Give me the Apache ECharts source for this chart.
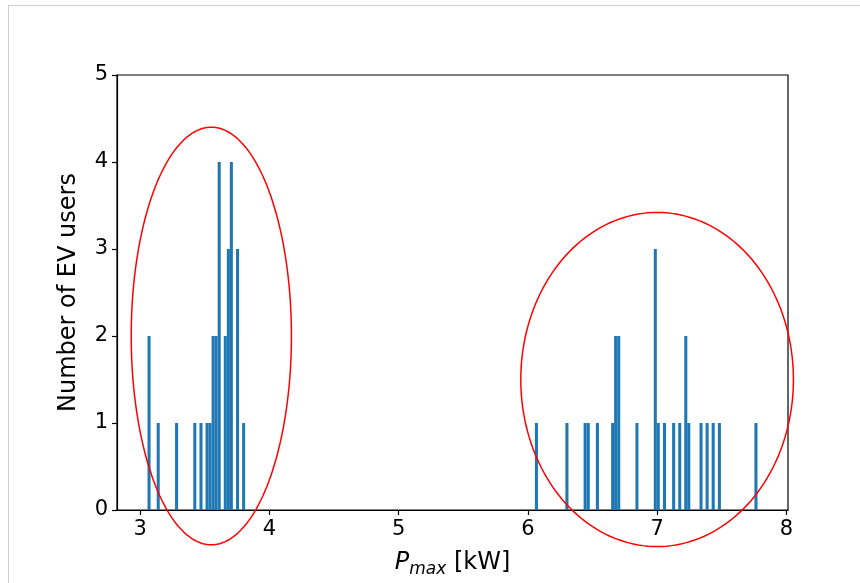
<!DOCTYPE html>
<html>
<head>
<meta charset="utf-8">
<script src="https://cdn.jsdelivr.net/npm/echarts@6/dist/echarts.min.js"></script>
<style>
  html, body { margin: 0; padding: 0; background: #fff; }
  #chart { width: 860px; height: 583px; }
</style>
</head>
<body>
<div id="chart"></div>
<script>
// Histogram bin centres (kW) and counts
const binWidth = 0.0236;
const binCenters = [
  3.068, 3.139, 3.281, 3.422, 3.470, 3.517, 3.540, 3.564, 3.587, 3.611,
  3.658, 3.682, 3.705, 3.753, 3.800,
  6.066, 6.302, 6.443, 6.467, 6.538, 6.656, 6.679, 6.703, 6.844,
  6.986, 7.009, 7.057, 7.128, 7.175, 7.222, 7.245, 7.340, 7.387, 7.434, 7.482, 7.765
];
const binCounts = [
  2, 1, 1, 1, 1, 1, 1, 2, 2, 4,
  2, 3, 4, 3, 1,
  1, 1, 1, 1, 1, 1, 2, 2, 1,
  3, 1, 1, 1, 1, 2, 1, 1, 1, 1, 1, 1
];
const xTicks = [3, 4, 5, 6, 7, 8];
const yTicks = [0, 1, 2, 3, 4, 5];
// Ellipses: centre x, centre y, full width, full height (data units)
const ellipseCx = [3.55, 7.0];
const ellipseCy = [2.0, 1.5];
const ellipseW = [1.24, 2.11];
const ellipseH = [4.8, 3.84];

const chart = echarts.init(document.getElementById('chart'), null, { renderer: 'canvas' });
const font = 'DejaVu Sans';

const barData = binCenters.map((c, i) => [c, binCounts[i]]);
const ellData = ellipseCx.map((c, i) => [c, ellipseCy[i], ellipseW[i], ellipseH[i]]);

const option = {
  backgroundColor: '#ffffff',
  animation: false,
  graphic: [
    { type: 'line', shape: { x1: 8, y1: 5.5, x2: 860, y2: 5.5 }, style: { stroke: '#cfcfcf', lineWidth: 1 } },
    { type: 'line', shape: { x1: 8.5, y1: 5, x2: 8.5, y2: 583 }, style: { stroke: '#cfcfcf', lineWidth: 1 } }
  ],
  grid: { left: 117, right: 72, top: 75, bottom: 71, show: true, borderColor: '#000', borderWidth: 1.2, backgroundColor: 'transparent' },
  xAxis: {
    type: 'value', min: 2.82, max: 8.013,
    axisLine: { show: true, onZero: false, lineStyle: { color: '#000', width: 1.2 } },
    axisTick: { show: true, length: 5, customValues: xTicks, lineStyle: { color: '#000', width: 1.2 } },
    axisLabel: { customValues: xTicks, color: '#000', fontSize: 21, fontFamily: font, margin: 9 },
    splitLine: { show: false },
    name: '{i|P}{s|max}{n| [kW]}',
    nameLocation: 'middle', nameGap: 38,
    nameTextStyle: {
      color: '#000', fontFamily: font, fontSize: 24,
      rich: {
        i: { fontSize: 24, fontStyle: 'italic', fontFamily: font, color: '#000', lineHeight: 30 },
        s: { fontSize: 17, fontStyle: 'italic', fontFamily: font, color: '#000', lineHeight: 30, verticalAlign: 'bottom', padding: [12, 0, 0, 0] },
        n: { fontSize: 24, fontFamily: font, color: '#000', lineHeight: 30 }
      }
    }
  },
  yAxis: {
    type: 'value', min: 0, max: 5, interval: 1,
    axisLine: { show: true, lineStyle: { color: '#000', width: 1.2 } },
    axisTick: { show: true, length: 5, lineStyle: { color: '#000', width: 1.2 } },
    axisLabel: { color: '#000', fontSize: 21, fontFamily: font, margin: 9 },
    splitLine: { show: false },
    name: 'Number of EV users',
    nameLocation: 'middle', nameGap: 36,
    nameTextStyle: { color: '#000', fontFamily: font, fontSize: 24 }
  },
  series: [
    {
      type: 'custom',
      data: barData,
      renderItem: function (params, api) {
        const c = api.value(0), h = api.value(1);
        const p0 = api.coord([c - binWidth / 2, 0]);
        const p1 = api.coord([c + binWidth / 2, h]);
        return {
          type: 'rect',
          shape: { x: p0[0], y: p1[1], width: p1[0] - p0[0], height: p0[1] - p1[1] },
          style: { fill: '#1f77b4' }
        };
      }
    },
    {
      type: 'custom',
      clip: false,
      data: ellData,
      renderItem: function (params, api) {
        const cx = api.value(0), cy = api.value(1), w = api.value(2), h = api.value(3);
        const pts = [];
        const n = 180;
        for (let k = 0; k <= n; k++) {
          const t = 2 * Math.PI * k / n;
          pts.push(api.coord([cx + (w / 2) * Math.cos(t), cy + (h / 2) * Math.sin(t)]));
        }
        return {
          type: 'polyline',
          shape: { points: pts },
          style: { stroke: '#ff0000', lineWidth: 1.5, fill: 'none' }
        };
      }
    }
  ]
};
chart.setOption(option);
</script>
</body>
</html>
